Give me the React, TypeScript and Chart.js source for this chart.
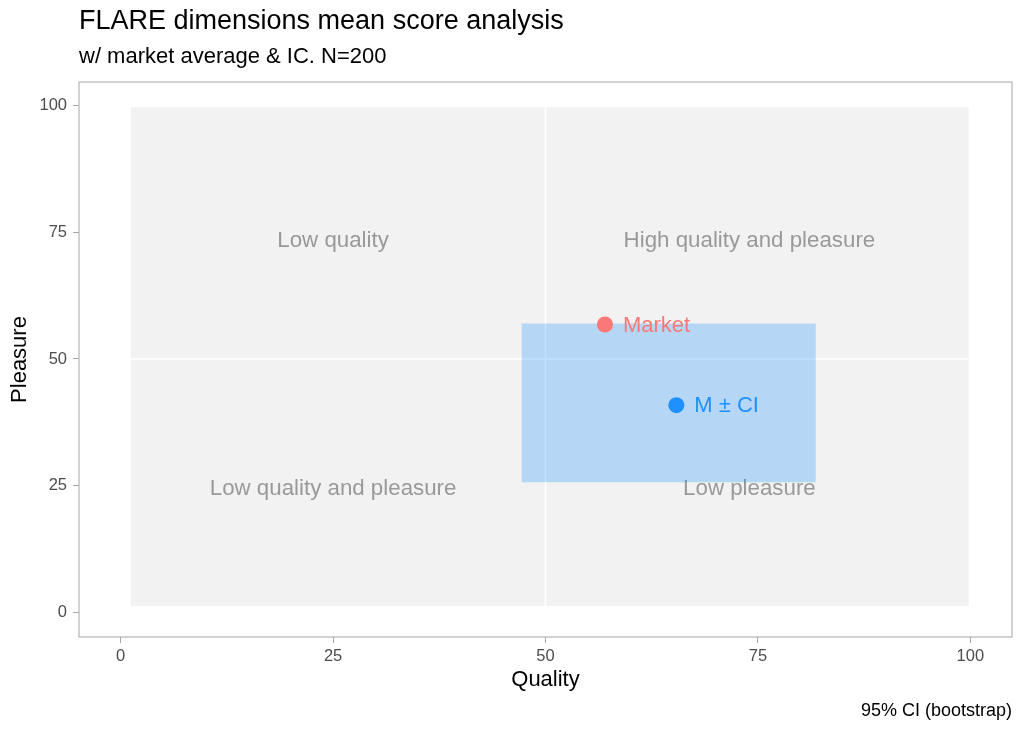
import React, { useEffect, useRef } from "react";
import { Chart, registerables } from "chart.js";

Chart.register(...registerables);

// ---- data ----
const titleText = "FLARE dimensions mean score analysis";
const subtitleText = "w/ market average & IC. N=200";
const captionText = "95% CI (bootstrap)";
const xAxisTitle = "Quality";
const yAxisTitle = "Pleasure";

const tickValues = [0, 25, 50, 75, 100];
const xRange = [-4.9, 104.9];
const yRange = [-4.8, 104.6];

const backgroundX = [1.2, 99.8];
const backgroundY = [1.3, 99.6];

const midX = 50;
const midY = 50;

const ciX = [47.2, 81.8];
const ciY = [25.7, 57.0];

const marketPoint = { x: 57.0, y: 56.8 };
const meanPoint = { x: 65.4, y: 40.9 };
const pointLabels = ["Market", "M ± CI"];

const quadrantLabels = ["Low quality", "High quality and pleasure", "Low quality and pleasure", "Low pleasure"];
const quadrantX = [25, 74, 25, 74];
const quadrantY = [73.3, 73.3, 24.4, 24.4];

const FONT = '"Liberation Sans", Arial, Helvetica, sans-serif';
const MARKET_COLOR = "#FA7876";
const MEAN_COLOR = "#1E90FF";

function rectPoints(xs: number[], ys: number[]) {
  return [
    { x: xs[0], y: ys[0] },
    { x: xs[0], y: ys[1] },
    { x: xs[1], y: ys[1] },
    { x: xs[1], y: ys[0] },
    { x: xs[0], y: ys[0] },
  ];
}

export default function App() {
  const ref = useRef<HTMLCanvasElement | null>(null);

  useEffect(() => {
    const canvas = ref.current;
    if (!canvas) return;

    const labelsPlugin = {
      id: "customText",
      afterDatasetDraw(chart: any, args: any) {
        if (args.index !== 0) return;
        const ctx = chart.ctx;
        const xs = chart.scales.x;
        const ys = chart.scales.y;
        ctx.save();
        ctx.font = `22.3px ${FONT}`;
        ctx.fillStyle = "#999999";
        ctx.textAlign = "center";
        ctx.textBaseline = "middle";
        quadrantLabels.forEach((t, i) => {
          ctx.fillText(t, xs.getPixelForValue(quadrantX[i]), ys.getPixelForValue(quadrantY[i]));
        });
        ctx.restore();
      },
      afterDatasetsDraw(chart: any) {
        const ctx = chart.ctx;
        const xs = chart.scales.x;
        const ys = chart.scales.y;
        ctx.save();
        ctx.font = `22px ${FONT}`;
        ctx.textAlign = "left";
        ctx.textBaseline = "middle";
        ctx.fillStyle = MARKET_COLOR;
        ctx.fillText(pointLabels[0], xs.getPixelForValue(marketPoint.x) + 18, ys.getPixelForValue(marketPoint.y) + 1);
        ctx.fillStyle = MEAN_COLOR;
        ctx.fillText(pointLabels[1], xs.getPixelForValue(meanPoint.x) + 18, ys.getPixelForValue(meanPoint.y) + 1);
        ctx.restore();
      },
      afterDraw(chart: any) {
        const ctx = chart.ctx;
        const a = chart.chartArea;
        ctx.save();
        // panel border
        ctx.strokeStyle = "#B3B3B3";
        ctx.lineWidth = 1.2;
        ctx.strokeRect(a.left, a.top, a.right - a.left, a.bottom - a.top);
        // titles
        ctx.fillStyle = "#000000";
        ctx.textBaseline = "middle";
        ctx.textAlign = "left";
        ctx.font = `27px ${FONT}`;
        ctx.fillText(titleText, 79, 22);
        ctx.font = `22px ${FONT}`;
        ctx.fillText(subtitleText, 79, 57);
        ctx.textAlign = "right";
        ctx.font = `18px ${FONT}`;
        ctx.fillText(captionText, 1012, 711);
        ctx.textAlign = "center";
        ctx.font = `22px ${FONT}`;
        ctx.fillText(xAxisTitle, (a.left + a.right) / 2, 680);
        ctx.translate(20, (a.top + a.bottom) / 2);
        ctx.rotate(-Math.PI / 2);
        ctx.fillText(yAxisTitle, 0, 0);
        ctx.restore();
      },
    };

    const tickFont = { family: FONT, size: 16.5 };

    const chart = new Chart(canvas, {
      type: "line",
      data: {
        datasets: [
          {
            data: rectPoints(backgroundX, backgroundY),
            fill: "shape",
            backgroundColor: "#F2F2F2",
            borderWidth: 0,
            pointRadius: 0,
            order: 10,
          } as any,
          {
            data: [
              { x: midX, y: backgroundY[0] },
              { x: midX, y: backgroundY[1] },
            ],
            borderColor: "#FFFFFF",
            borderWidth: 1.6,
            pointRadius: 0,
            fill: false,
            order: 9,
          },
          {
            data: [
              { x: backgroundX[0], y: midY },
              { x: backgroundX[1], y: midY },
            ],
            borderColor: "#FFFFFF",
            borderWidth: 1.6,
            pointRadius: 0,
            fill: false,
            order: 8,
          },
          {
            data: rectPoints(ciX, ciY),
            fill: "shape",
            backgroundColor: "rgba(30,144,255,0.28)",
            borderWidth: 0,
            pointRadius: 0,
            order: 7,
          } as any,
          {
            data: [marketPoint],
            showLine: false,
            pointRadius: 8,
            pointBackgroundColor: MARKET_COLOR,
            pointBorderWidth: 0,
            order: 2,
          },
          {
            data: [meanPoint],
            showLine: false,
            pointRadius: 8,
            pointBackgroundColor: MEAN_COLOR,
            pointBorderWidth: 0,
            order: 1,
          },
        ],
      },
      options: {
        animation: false,
        responsive: false,
        devicePixelRatio: 1,
        layout: { padding: { top: 82, right: 12, left: 0, bottom: 0 } },
        plugins: {
          legend: { display: false },
          tooltip: { enabled: false },
          title: { display: false },
        },
        scales: {
          x: {
            type: "linear",
            min: xRange[0],
            max: xRange[1],
            afterBuildTicks: (s: any) => {
              s.ticks = tickValues.map((v) => ({ value: v }));
            },
            afterFit: (s: any) => {
              s.height = 94;
            },
            ticks: { font: tickFont, color: "#4D4D4D", padding: 4, maxRotation: 0, autoSkip: false },
            grid: { drawOnChartArea: false, drawTicks: true, tickLength: 6, color: "#A6A6A6" },
            border: { display: false },
          },
          y: {
            type: "linear",
            min: yRange[0],
            max: yRange[1],
            afterBuildTicks: (s: any) => {
              s.ticks = tickValues.map((v) => ({ value: v }));
            },
            afterFit: (s: any) => {
              s.width = 79;
            },
            ticks: { font: tickFont, color: "#4D4D4D", padding: 6, autoSkip: false },
            grid: { drawOnChartArea: false, drawTicks: true, tickLength: 6, color: "#A6A6A6" },
            border: { display: false },
          },
        },
      } as any,
      plugins: [labelsPlugin],
    });

    return () => chart.destroy();
  }, []);

  return (
    <div style={{ position: "fixed", left: 0, top: 0, width: 1024, height: 731, background: "#fff" }}>
      <canvas ref={ref} width={1024} height={731} />
    </div>
  );
}
